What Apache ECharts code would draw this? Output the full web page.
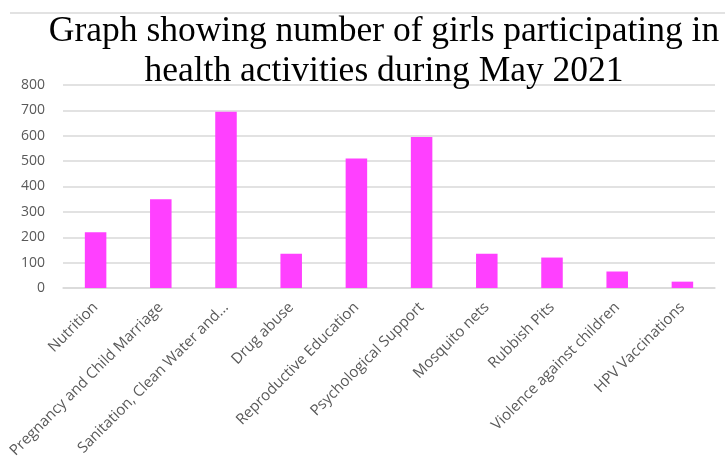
<!DOCTYPE html>
<html>
<head>
<meta charset="utf-8">
<script src="https://cdn.jsdelivr.net/npm/echarts@6/dist/echarts.min.js"></script>
<style>html,body{margin:0;padding:0;background:#fff;}#c{width:725px;height:458px;}</style>
</head>
<body>
<div id="c"></div>
<script>
const titleText = "Graph showing number of girls participating in\nhealth activities during May 2021";
const categories = ["Nutrition", "Pregnancy and Child Marriage", "Sanitation, Clean Water and...", "Drug abuse", "Reproductive Education", "Psychological Support", "Mosquito nets", "Rubbish Pits", "Violence against children", "HPV Vaccinations"];
const girls = [220, 350, 695, 135, 510, 595, 135, 120, 65, 25];
const yTicks = [0, 100, 200, 300, 400, 500, 600, 700, 800];

const chart = echarts.init(document.getElementById('c'), null, {renderer: 'canvas'});
chart.setOption({
  backgroundColor: '#fff',
  animation: false,
  graphic: [{
    type: 'line', shape: {x1: 10, y1: 13, x2: 725, y2: 13},
    style: {stroke: '#d9d9d9', lineWidth: 1.5}, silent: true
  }],
  title: {
    text: titleText,
    left: 379, top: 7, textAlign: 'center',
    textStyle: {fontFamily: 'Liberation Serif', fontWeight: 'normal', fontSize: 35.5, color: '#000', lineHeight: 40}
  },
  grid: {left: 63, right: 10, top: 85, bottom: 170, containLabel: false, outerBoundsMode: 'none'},
  xAxis: {
    type: 'category', data: categories,
    axisLine: {show: true, lineStyle: {color: '#d9d9d9', width: 1.5}},
    axisTick: {show: false},
    axisLabel: {rotate: 45, interval: 0, color: '#595959', fontFamily: 'Open Sans', fontSize: 15, margin: 17}
  },
  yAxis: {
    type: 'value', min: yTicks[0], max: yTicks[yTicks.length - 1], interval: 100,
    axisLine: {show: false}, axisTick: {show: false},
    splitLine: {lineStyle: {color: '#d9d9d9', width: 1.5}},
    axisLabel: {color: '#595959', fontFamily: 'Open Sans', fontSize: 14, margin: 18}
  },
  series: [{
    type: 'bar', data: girls, barWidth: '33%',
    itemStyle: {color: '#ff40ff'}
  }]
});
</script>
</body>
</html>
